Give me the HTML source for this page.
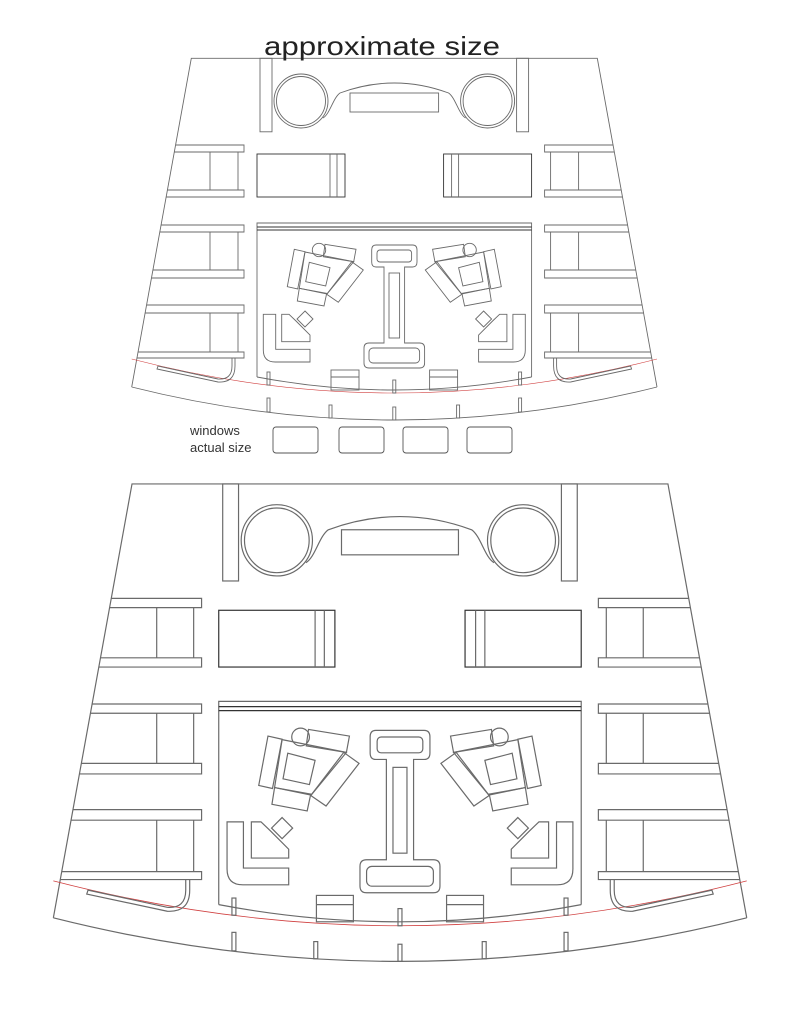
<!DOCTYPE html>
<html><head><meta charset="utf-8"><style>
html,body{margin:0;padding:0;background:#fff;}
svg{display:block;}
</style></head><body>
<svg width="788" height="1024" viewBox="0 0 788 1024" xmlns="http://www.w3.org/2000/svg">
<defs>
<g id="plan" fill="none" stroke="#6a6a6a" stroke-width="0.9">
  <!-- outer shell -->
  <path d="M131.7,387 L191.3,58.3 L597.3,58.3 L657,387"/>
  <path d="M131.7,387 Q394.3,453 657,387"/>
  <path d="M131.7,359 Q394.3,427 657,359" stroke="#d04040" stroke-width="0.6"/>
  <!-- posts -->
  <rect x="260" y="58.3" width="12" height="73.5"/>
  <rect x="516.6" y="58.3" width="12" height="73.5"/>
  <!-- circles -->
  <circle cx="301" cy="101" r="27"/>
  <circle cx="301" cy="101" r="24.5"/>
  <circle cx="487.6" cy="101" r="27"/>
  <circle cx="487.6" cy="101" r="24.5"/>
  <path d="M323,118 C330,114 333,98 340,93 Q394.3,73 448.6,93 C455.6,98 458.6,114 465.6,118"/>
  <rect x="350" y="93" width="88.6" height="19"/>
  <!-- left bars -->
  <path d="M175.6,145 H244 V152 H174.3 M167.4,190 H244 V197 H166.2"/>
  <path d="M210,152 V190 M238,152 V190"/>
  <path d="M161.1,225 H244 V232 H159.8 M152.9,270 H244 V278 H151.5"/>
  <path d="M210,232 V270 M238,232 V270"/>
  <path d="M146.6,305 H244 V313 H145.1 M138.1,352 H244 V358 H137"/>
  <path d="M210,313 V352 M238,313 V352"/>
  <!-- right bars -->
  <path d="M613,145 H544.6 V152 H614.3 M621.2,190 H544.6 V197 H622.4"/>
  <path d="M578.6,152 V190 M550.6,152 V190"/>
  <path d="M627.5,225 H544.6 V232 H628.8 M635.7,270 H544.6 V278 H637.1"/>
  <path d="M578.6,232 V270 M550.6,232 V270"/>
  <path d="M642,305 H544.6 V313 H643.5 M650.5,352 H544.6 V358 H651.6"/>
  <path d="M578.6,313 V352 M550.6,313 V352"/>
  <!-- J curves near sides -->
  <path d="M232,358 V366 Q232,380 218,379 L158,366 L157,369 L218,382 Q235,383 235,366 V358"/>
  <path d="M556.6,358 V366 Q556.6,380 570.6,379 L630.6,366 L631.6,369 L570.6,382 Q553.6,383 553.6,366 V358"/>
  <!-- beds -->
  <rect x="257" y="154" width="88" height="43" stroke="#333"/>
  <path d="M330,154 V197 M337,154 V197"/>
  <rect x="443.6" y="154" width="88" height="43" stroke="#333"/>
  <path d="M458.6,154 V197 M451.6,154 V197"/>
  <!-- room -->
  <path d="M257,377 V223 H531.6 V377"/>
  <path d="M257,227 H531.6 M257,230 H531.6" stroke="#333"/>
  <path d="M257,377 Q394.3,403 531.6,377"/>
  <!-- dumbbell -->
  <path d="M376,245 H412.6 Q417,245 417,250 V262 Q417,267 412.6,267 H404.6 V343 H419.6 Q424.6,343 424.6,348 V363 Q424.6,368 419.6,368 H369 Q364,368 364,363 V348 Q364,343 369,343 H384 V267 H376 Q371.7,267 371.7,262 V250 Q371.7,245 376,245 Z"/>
  <rect x="377" y="250" width="34.6" height="12" rx="3"/>
  <rect x="389" y="273" width="10.6" height="65"/>
  <rect x="369" y="348" width="50.6" height="15" rx="4"/>
  <!-- left chair -->
  <polygon points="294.3,249.3 305,251.7 297.7,289 287.3,286.7"/>
  <polygon points="305,252 353.7,261.7 327,294 299.3,288.3"/>
  <polygon points="309.3,262.3 330,267.7 325.7,286 305.7,281.7"/>
  <polygon points="325,244.3 356,249.3 353.7,261.7 323.3,256.7"/>
  <circle cx="319" cy="250" r="6.7"/>
  <polygon points="299.3,288.3 326.7,293.3 324,306 297.3,301"/>
  <polygon points="351.7,261.7 363.3,270 338.3,302.3 326.7,294.3"/>
  <!-- right chair -->
  <polygon points="494.3,249.3 483.6,251.7 490.9,289 501.3,286.7"/>
  <polygon points="483.6,252 434.9,261.7 461.6,294 489.3,288.3"/>
  <polygon points="479.3,262.3 458.6,267.7 462.9,286 482.9,281.7"/>
  <polygon points="463.6,244.3 432.6,249.3 434.9,261.7 465.3,256.7"/>
  <circle cx="469.6" cy="250" r="6.7"/>
  <polygon points="489.3,288.3 461.9,293.3 464.6,306 491.3,301"/>
  <polygon points="436.9,261.7 425.3,270 450.3,302.3 461.9,294.3"/>
  <!-- L sofas -->
  <path d="M263.3,314.3 V350 Q263.3,362 275.3,362 H310 V349.3 H275.7 V314.3 Z"/>
  <path d="M281.7,314.3 V341.7 H310 V335 L296,321 L289,314.3 Z"/>
  <polygon points="305,311 313,319 305,327 297,319"/>
  <path d="M525.3,314.3 V350 Q525.3,362 513.3,362 H478.6 V349.3 H512.9 V314.3 Z"/>
  <path d="M506.9,314.3 V341.7 H478.6 V335 L492.6,321 L499.6,314.3 Z"/>
  <polygon points="483.6,311 491.6,319 483.6,327 475.6,319"/>
  <!-- window seats -->
  <rect x="331" y="370" width="28" height="20"/>
  <path d="M331,377 H359"/>
  <rect x="429.6" y="370" width="28" height="20"/>
  <path d="M429.6,377 H457.6"/>
  <!-- mullions -->
  <rect x="267" y="372" width="3" height="13"/>
  <rect x="392.8" y="380" width="3" height="13"/>
  <rect x="518.6" y="372" width="3" height="13"/>
  <rect x="267" y="398" width="3" height="14"/>
  <rect x="329" y="405" width="3" height="13"/>
  <rect x="392.8" y="407" width="3" height="13"/>
  <rect x="456.6" y="405" width="3" height="13"/>
  <rect x="518.6" y="398" width="3" height="14"/>
</g>
</defs>

<use href="#plan"/>
<use href="#plan" transform="translate(-120.5,407) scale(1.32)"/>

<text x="264" y="55" font-family="Liberation Sans, Arial, sans-serif" font-size="26" fill="#222" textLength="236" lengthAdjust="spacingAndGlyphs">approximate size</text>
<text x="190" y="435" font-family="Liberation Sans, Arial, sans-serif" font-size="13" fill="#333">windows</text>
<text x="190" y="452" font-family="Liberation Sans, Arial, sans-serif" font-size="13" fill="#333">actual size</text>
<g fill="none" stroke="#555" stroke-width="0.9">
  <rect x="273" y="427" width="45" height="26" rx="3"/>
  <rect x="339" y="427" width="45" height="26" rx="3"/>
  <rect x="403" y="427" width="45" height="26" rx="3"/>
  <rect x="467" y="427" width="45" height="26" rx="3"/>
</g>
</svg>
</body></html>
